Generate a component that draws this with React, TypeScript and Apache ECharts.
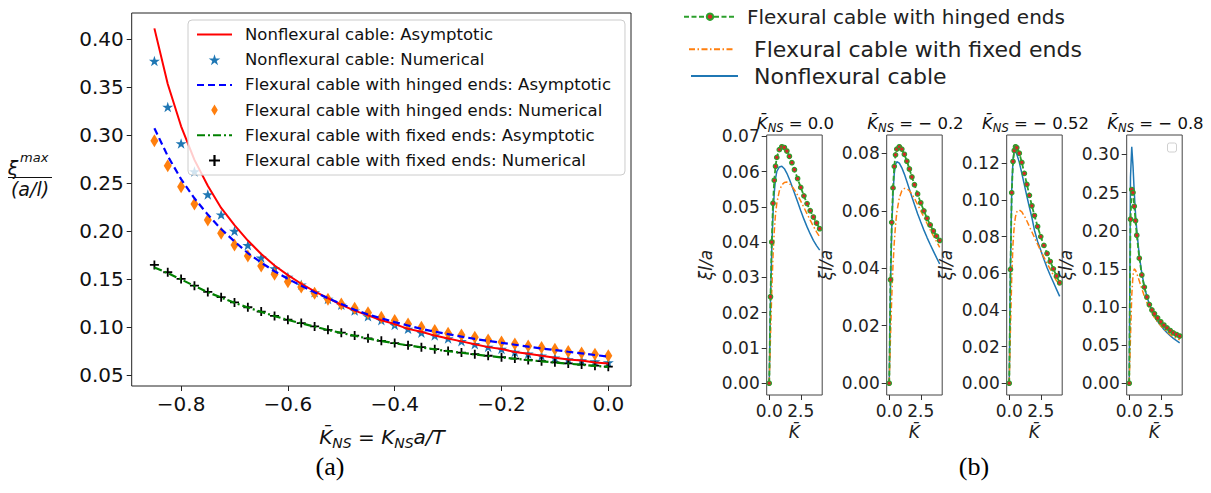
import React, { useEffect, useRef } from 'react';
import * as echarts from 'echarts';

// ---------- Panel (a) data ----------
const KNS = [-0.85, -0.825, -0.8, -0.775, -0.75, -0.725, -0.7, -0.675, -0.65, -0.625, -0.6, -0.575, -0.55, -0.525, -0.5, -0.475, -0.45, -0.425, -0.4, -0.375, -0.35, -0.325, -0.3, -0.275, -0.25, -0.225, -0.2, -0.175, -0.15, -0.125, -0.1, -0.075, -0.05, -0.025, 0];
const NONFLEX_ASYM = [0.411, 0.353, 0.309, 0.274, 0.247, 0.224, 0.206, 0.190, 0.176, 0.164, 0.154, 0.145, 0.137, 0.130, 0.123, 0.117, 0.112, 0.107, 0.103, 0.098, 0.095, 0.091, 0.088, 0.085, 0.082, 0.079, 0.077, 0.074, 0.072, 0.070, 0.068, 0.066, 0.065, 0.063, 0.062];
const NONFLEX_NUM = [0.377, 0.329, 0.291, 0.262, 0.238, 0.217, 0.200, 0.185, 0.172, 0.161, 0.152, 0.144, 0.136, 0.129, 0.123, 0.117, 0.111, 0.107, 0.102, 0.098, 0.094, 0.091, 0.088, 0.085, 0.082, 0.079, 0.077, 0.074, 0.072, 0.070, 0.068, 0.066, 0.065, 0.064, 0.063];
const HINGED_ASYM = [0.307, 0.278, 0.254, 0.234, 0.217, 0.202, 0.189, 0.177, 0.167, 0.158, 0.150, 0.143, 0.136, 0.130, 0.124, 0.118, 0.113, 0.109, 0.105, 0.1015, 0.098, 0.095, 0.0925, 0.090, 0.0875, 0.0855, 0.0835, 0.0815, 0.0795, 0.0775, 0.076, 0.0742, 0.0725, 0.0708, 0.069];
const HINGED_NUM = [0.294, 0.268, 0.246, 0.228, 0.2115, 0.1976, 0.1854, 0.174, 0.1635, 0.155, 0.147, 0.1415, 0.1351, 0.1289, 0.124, 0.1194, 0.1149, 0.1101, 0.1066, 0.1031, 0.0997, 0.0962, 0.0934, 0.0915, 0.0893, 0.0865, 0.0844, 0.0823, 0.0802, 0.0787, 0.0768, 0.0744, 0.073, 0.0715, 0.070];
const FIXED_ASYM = [0.162, 0.1562, 0.1495, 0.1427, 0.1362, 0.1306, 0.1252, 0.1202, 0.1157, 0.1113, 0.1073, 0.1038, 0.1003, 0.0969, 0.0938, 0.0908, 0.088, 0.0854, 0.083, 0.0808, 0.0787, 0.0767, 0.0748, 0.0731, 0.0714, 0.0698, 0.0683, 0.0669, 0.0655, 0.0642, 0.063, 0.0618, 0.0606, 0.0595, 0.0584];
const FIXED_NUM = [0.1646, 0.157, 0.150, 0.143, 0.1365, 0.131, 0.1255, 0.1205, 0.116, 0.1115, 0.1075, 0.104, 0.1005, 0.097, 0.094, 0.091, 0.0882, 0.0856, 0.0832, 0.081, 0.0789, 0.0769, 0.075, 0.0733, 0.0716, 0.070, 0.0685, 0.0671, 0.0657, 0.0644, 0.0632, 0.062, 0.0608, 0.0597, 0.0586];
const A_X_TICKS = [-0.8, -0.6, -0.4, -0.2, 0.0];
const A_Y_TICKS = [0.05, 0.10, 0.15, 0.20, 0.25, 0.30, 0.35, 0.40];
const A_NAMES = [
  'Nonflexural cable: Asymptotic',
  'Nonflexural cable: Numerical',
  'Flexural cable with hinged ends: Asymptotic',
  'Flexural cable with hinged ends: Numerical',
  'Flexural cable with fixed ends: Asymptotic',
  'Flexural cable with fixed ends: Numerical',
];

// ---------- Panel (b) data ----------
const KBAR = [0, 0.1, 0.2, 0.3, 0.4, 0.5, 0.6, 0.8, 1.0, 1.2, 1.4, 1.6, 1.8, 2.0, 2.25, 2.5, 2.75, 3.0, 3.25, 3.5, 3.75, 4.0];
const SUB_TITLES = ['0.0', '\u2212 0.2', '\u2212 0.52', '\u2212 0.8'];
const B_NAMES = ['Flexural cable with hinged ends', 'Flexural cable with fixed ends', 'Nonflexural cable'];

const HINGED_0 = [0, 0.0245, 0.040, 0.051, 0.0575, 0.0615, 0.0640, 0.0662, 0.0670, 0.0668, 0.0658, 0.0643, 0.0625, 0.0605, 0.0580, 0.0555, 0.0531, 0.0509, 0.0489, 0.0471, 0.0454, 0.0438];
const FIXED_0 = [0, 0.013, 0.026, 0.036, 0.043, 0.048, 0.051, 0.0545, 0.0562, 0.0569, 0.0570, 0.0566, 0.0558, 0.0548, 0.0533, 0.0516, 0.0498, 0.0480, 0.0462, 0.0445, 0.0429, 0.0415];
const NONFLEX_0 = [0, 0.023, 0.038, 0.048, 0.054, 0.058, 0.060, 0.0613, 0.0615, 0.0608, 0.0595, 0.0578, 0.0559, 0.0539, 0.0514, 0.0489, 0.0465, 0.0443, 0.0423, 0.0405, 0.0390, 0.0377];

const HINGED_1 = [0, 0.036, 0.056, 0.068, 0.0755, 0.0795, 0.0815, 0.0823, 0.0815, 0.0797, 0.0773, 0.0746, 0.0718, 0.0691, 0.0659, 0.0628, 0.0600, 0.0574, 0.0551, 0.0530, 0.0512, 0.0497];
const FIXED_1 = [0, 0.016, 0.030, 0.041, 0.049, 0.055, 0.0595, 0.0645, 0.0670, 0.0678, 0.0677, 0.0670, 0.0658, 0.0643, 0.0622, 0.0600, 0.0578, 0.0556, 0.0534, 0.0513, 0.0493, 0.0473];
const NONFLEX_1 = [0, 0.034, 0.054, 0.066, 0.073, 0.0762, 0.0771, 0.0766, 0.0750, 0.0728, 0.0702, 0.0675, 0.0648, 0.0622, 0.0590, 0.0561, 0.0533, 0.0507, 0.0483, 0.0460, 0.0437, 0.0415];

const HINGED_2 = [0, 0.062, 0.104, 0.121, 0.127, 0.129, 0.1285, 0.1255, 0.1205, 0.1145, 0.1085, 0.1025, 0.0968, 0.0915, 0.0855, 0.0800, 0.0752, 0.0708, 0.0664, 0.0624, 0.0585, 0.0548];
const FIXED_2 = [0, 0.030, 0.058, 0.076, 0.086, 0.091, 0.0935, 0.0945, 0.0935, 0.0912, 0.0885, 0.0855, 0.0825, 0.0795, 0.0758, 0.0722, 0.0688, 0.0655, 0.0622, 0.0590, 0.0558, 0.0527];
const NONFLEX_2 = [0, 0.065, 0.106, 0.122, 0.127, 0.1265, 0.125, 0.1205, 0.1145, 0.1083, 0.1020, 0.0960, 0.0903, 0.0835, 0.0773, 0.0726, 0.0676, 0.0630, 0.0589, 0.0551, 0.0512, 0.0474];

const HINGED_3 = [0, 0.215, 0.254, 0.250, 0.232, 0.213, 0.194, 0.164, 0.142, 0.126, 0.113, 0.103, 0.096, 0.091, 0.0855, 0.0805, 0.0762, 0.0725, 0.0690, 0.0660, 0.0638, 0.0618];
const FIXED_3 = [0, 0.060, 0.115, 0.142, 0.150, 0.148, 0.144, 0.134, 0.124, 0.114, 0.106, 0.098, 0.092, 0.086, 0.080, 0.0755, 0.0712, 0.0673, 0.0638, 0.0610, 0.0588, 0.0568];
const NONFLEX_3 = [0, 0.270, 0.310, 0.285, 0.250, 0.222, 0.200, 0.167, 0.144, 0.127, 0.114, 0.103, 0.095, 0.088, 0.081, 0.0755, 0.0705, 0.0662, 0.0622, 0.0588, 0.0558, 0.0530];

const SUB_HINGED = [HINGED_0, HINGED_1, HINGED_2, HINGED_3];
const SUB_FIXED = [FIXED_0, FIXED_1, FIXED_2, FIXED_3];
const SUB_NONFLEX = [NONFLEX_0, NONFLEX_1, NONFLEX_2, NONFLEX_3];
const SUB_X_TICKS = [0, 2.5];
const SUB_Y_TICKS = [
  [0, 0.01, 0.02, 0.03, 0.04, 0.05, 0.06, 0.07],
  [0, 0.02, 0.04, 0.06, 0.08],
  [0, 0.02, 0.04, 0.06, 0.08, 0.10, 0.12],
  [0, 0.05, 0.10, 0.15, 0.20, 0.25, 0.30],
];

// ---------- layout / style ----------
const FONT = 'DejaVu Sans';
const STAR = 'path://M50,0L61.2,34.5L97.6,34.5L68.2,55.9L79.4,90.5L50,69.1L20.6,90.5L31.8,55.9L2.4,34.5L38.8,34.5Z';
const THIN_DIAMOND = 'path://M30,0L60,50L30,100L0,50Z';
const PLUS = 'path://M40,0H60V40H100V60H60V100H40V60H0V40H40Z';
const A_GRID = { left: 131.7, top: 13, width: 499.3, height: 373 };
const SUB_LEFTS = [766.7, 886.7, 1006.7, 1126.7];
const SUB_TOP = 135;
const SUB_W = 55.5;
const SUB_H = 260;

const zip = (xs: number[], ys: number[]) => xs.map((x, i) => [x, ys[i]]);
const fmt1 = (v: number) => (v < 0 ? '\u2212' : '') + Math.abs(v).toFixed(1);
const fmt2 = (v: number) => v.toFixed(2);

function buildOption() {
  const grids: any[] = [{ ...A_GRID, show: true, borderColor: '#222', borderWidth: 1, containLabel: false }];
  const xAxes: any[] = [{
    type: 'value', gridIndex: 0, min: -0.8925, max: 0.0425, position: 'bottom',
    axisLine: { show: false, onZero: false }, splitLine: { show: false },
    axisTick: { show: true, length: 5, lineStyle: { color: '#222' }, customValues: A_X_TICKS },
    axisLabel: { customValues: A_X_TICKS, formatter: fmt1, fontSize: 20, color: '#111', fontFamily: FONT, margin: 8 },
  }];
  const yAxes: any[] = [{
    type: 'value', gridIndex: 0, min: 0.0385, max: 0.427, position: 'left',
    axisLine: { show: false, onZero: false }, splitLine: { show: false },
    axisTick: { show: true, length: 5, lineStyle: { color: '#222' }, customValues: A_Y_TICKS },
    axisLabel: { customValues: A_Y_TICKS, formatter: fmt2, fontSize: 20, color: '#111', fontFamily: FONT, margin: 8 },
  }];

  const series: any[] = [
    { name: A_NAMES[0], type: 'line', xAxisIndex: 0, yAxisIndex: 0, data: zip(KNS, NONFLEX_ASYM), symbol: 'none', lineStyle: { color: '#ff0000', width: 2 }, itemStyle: { color: '#ff0000' } },
    { name: A_NAMES[1], type: 'scatter', xAxisIndex: 0, yAxisIndex: 0, data: zip(KNS, NONFLEX_NUM), symbol: STAR, symbolSize: 11, symbolKeepAspect: true, itemStyle: { color: '#1f77b4', opacity: 1 } },
    { name: A_NAMES[2], type: 'line', xAxisIndex: 0, yAxisIndex: 0, data: zip(KNS, HINGED_ASYM), symbol: 'none', lineStyle: { color: '#0000ff', width: 2.2, type: [7, 4] }, itemStyle: { color: '#0000ff' } },
    { name: A_NAMES[3], type: 'scatter', xAxisIndex: 0, yAxisIndex: 0, data: zip(KNS, HINGED_NUM), symbol: THIN_DIAMOND, symbolSize: [8, 13], itemStyle: { color: '#ff7f0e', opacity: 1 } },
    { name: A_NAMES[4], type: 'line', xAxisIndex: 0, yAxisIndex: 0, data: zip(KNS, FIXED_ASYM), symbol: 'none', lineStyle: { color: '#008000', width: 2.2, type: [8, 3, 2, 3] }, itemStyle: { color: '#008000' } },
    { name: A_NAMES[5], type: 'scatter', xAxisIndex: 0, yAxisIndex: 0, data: zip(KNS, FIXED_NUM), symbol: PLUS, symbolSize: 9, itemStyle: { color: '#000000', opacity: 1 } },
  ];

  const graphics: any[] = [];

  SUB_LEFTS.forEach((left, i) => {
    const gi = i + 1;
    grids.push({ left, top: SUB_TOP, width: SUB_W, height: SUB_H, show: true, borderColor: '#444', borderWidth: 1, containLabel: false });
    xAxes.push({
      type: 'value', gridIndex: gi, min: -0.2, max: 4.2, position: 'bottom',
      axisLine: { show: false, onZero: false }, splitLine: { show: false },
      axisTick: { show: true, length: 5, lineStyle: { color: '#333' }, customValues: SUB_X_TICKS },
      axisLabel: { customValues: SUB_X_TICKS, formatter: fmt1, fontSize: 17, color: '#222', fontFamily: FONT, margin: 7 },
    });
    yAxes.push({
      type: 'value', gridIndex: gi, position: 'left',
      min: (v: any) => v.min - 0.05 * (v.max - v.min),
      max: (v: any) => v.max + 0.05 * (v.max - v.min),
      axisLine: { show: false, onZero: false }, splitLine: { show: false },
      axisTick: { show: true, length: 5, lineStyle: { color: '#333' }, customValues: SUB_Y_TICKS[i] },
      axisLabel: { customValues: SUB_Y_TICKS[i], formatter: fmt2, fontSize: 17, color: '#222', fontFamily: FONT, margin: 7 },
    });
    series.push(
      { name: B_NAMES[2], type: 'line', xAxisIndex: gi, yAxisIndex: gi, data: zip(KBAR, SUB_NONFLEX[i]), symbol: 'none', lineStyle: { color: '#1f77b4', width: 1.5 }, itemStyle: { color: '#1f77b4' } },
      { name: B_NAMES[1], type: 'line', xAxisIndex: gi, yAxisIndex: gi, data: zip(KBAR, SUB_FIXED[i]), symbol: 'none', lineStyle: { color: '#ff7f0e', width: 1.5, type: [6, 2.5, 1.5, 2.5] }, itemStyle: { color: '#ff7f0e' } },
      { name: B_NAMES[0], type: 'line', xAxisIndex: gi, yAxisIndex: gi, data: zip(KBAR, SUB_HINGED[i]), symbol: 'circle', symbolSize: 4.5, showSymbol: true, showAllSymbol: true, lineStyle: { color: '#2ca02c', width: 1.8, type: [5, 2.5] }, itemStyle: { color: '#d62728', borderColor: '#2ca02c', borderWidth: 1.2 } },
    );
    const cx = left + SUB_W / 2;
    graphics.push({
      type: 'text', x: cx + 1, y: 123,
      style: {
        text: '{i|K\u0304}{s|NS}{n| = ' + SUB_TITLES[i] + '}',
        align: 'center', verticalAlign: 'middle',
        rich: {
          i: { fontFamily: FONT, fontStyle: 'italic', fontSize: 16.5, lineHeight: 22, fill: '#111' },
          s: { fontFamily: FONT, fontStyle: 'italic', fontSize: 11.5, lineHeight: 12, padding: [9, 0, 0, 0], fill: '#111' },
          n: { fontFamily: FONT, fontSize: 16.5, lineHeight: 22, fill: '#111' },
        },
      },
    });
    graphics.push({
      type: 'text', x: cx, y: 432,
      style: { text: 'K\u0304', fontFamily: FONT, fontStyle: 'italic', fontSize: 17, fill: '#222', align: 'center', verticalAlign: 'middle' },
    });
    graphics.push({
      type: 'text', x: left - 61, y: 265, rotation: Math.PI / 2,
      style: { text: '\u03BEl/a', fontFamily: FONT, fontStyle: 'italic', fontSize: 17, fill: '#222', align: 'center', verticalAlign: 'middle' },
    });
  });

  // empty legend box in last subplot
  graphics.push({ type: 'rect', shape: { x: 1167.5, y: 143, width: 9, height: 9, r: 2 }, style: { fill: '#fff', stroke: '#d0d0d0', lineWidth: 1 } });

  // panel (a) axis labels
  graphics.push({
    type: 'text', x: 382, y: 437,
    style: {
      text: '{i|K\u0304}{s|NS}{n| = }{i|K}{s|NS}{i|a/T}',
      align: 'center', verticalAlign: 'middle',
      rich: {
        i: { fontFamily: FONT, fontStyle: 'italic', fontSize: 20, lineHeight: 26, fill: '#111' },
        s: { fontFamily: FONT, fontStyle: 'italic', fontSize: 14, lineHeight: 14, padding: [11, 0, 0, 0], fill: '#111' },
        n: { fontFamily: FONT, fontSize: 20, lineHeight: 26, fill: '#111' },
      },
    },
  });
  graphics.push({ type: 'text', x: 13, y: 168, style: { text: '\u03BE', fontFamily: FONT, fontStyle: 'italic', fontSize: 19, fill: '#111', align: 'center', verticalAlign: 'middle' } });
  graphics.push({ type: 'text', x: 20, y: 157, style: { text: 'max', fontFamily: FONT, fontStyle: 'italic', fontSize: 13, fill: '#111', align: 'left', verticalAlign: 'middle' } });
  graphics.push({ type: 'line', shape: { x1: 8, y1: 177.5, x2: 52, y2: 177.5 }, style: { stroke: '#111', lineWidth: 1 } });
  graphics.push({ type: 'text', x: 30, y: 189, style: { text: '(a/l)', fontFamily: FONT, fontStyle: 'italic', fontSize: 19, fill: '#111', align: 'center', verticalAlign: 'middle' } });

  graphics.push({ type: 'text', x: 330, y: 466, style: { text: '(a)', fontFamily: 'Liberation Serif', fontSize: 26, fill: '#000', align: 'center', verticalAlign: 'middle' } });
  graphics.push({ type: 'text', x: 974, y: 466, style: { text: '(b)', fontFamily: 'Liberation Serif', fontSize: 26, fill: '#000', align: 'center', verticalAlign: 'middle' } });

  const hideSym = { opacity: 0 };
  const legends: any[] = [
    {
      orient: 'vertical', left: 188, top: 20, padding: [6, 14, 6, 8], itemGap: 8.2, itemWidth: 35, itemHeight: 11,
      backgroundColor: 'rgba(255,255,255,0.8)', borderColor: '#cccccc', borderWidth: 1, borderRadius: 4,
      textStyle: { fontFamily: FONT, fontSize: 16.5, color: '#111', padding: [0, 0, 0, 8] },
      selectedMode: false, z: 20,
      data: [
        { name: A_NAMES[0], itemStyle: hideSym },
        { name: A_NAMES[1] },
        { name: A_NAMES[2], itemStyle: hideSym },
        { name: A_NAMES[3] },
        { name: A_NAMES[4], itemStyle: hideSym },
        { name: A_NAMES[5] },
      ],
    },
    {
      left: 683, top: 6.7, padding: 0, itemWidth: 52, itemHeight: 8, selectedMode: false,
      textStyle: { fontFamily: FONT, fontSize: 20, color: '#222', padding: [0, 0, 0, 6] },
      data: [{ name: B_NAMES[0] }],
    },
    {
      left: 688, top: 38.3, padding: 0, itemWidth: 46, itemHeight: 8, selectedMode: false,
      textStyle: { fontFamily: FONT, fontSize: 22, color: '#222', padding: [0, 0, 0, 14] },
      data: [{ name: B_NAMES[1], itemStyle: hideSym }],
    },
    {
      left: 690, top: 65, padding: 0, itemWidth: 47, itemHeight: 8, selectedMode: false,
      textStyle: { fontFamily: FONT, fontSize: 22, color: '#222', padding: [0, 0, 0, 11] },
      data: [{ name: B_NAMES[2], itemStyle: hideSym }],
    },
  ];

  return {
    animation: false,
    backgroundColor: '#ffffff',
    textStyle: { fontFamily: FONT },
    grid: grids,
    xAxis: xAxes,
    yAxis: yAxes,
    legend: legends,
    series,
    graphic: graphics,
  };
}

export default function App() {
  const ref = useRef<HTMLDivElement>(null);
  useEffect(() => {
    if (!ref.current) return;
    const chart = echarts.init(ref.current, null, { renderer: 'svg' });
    chart.setOption(buildOption() as any);
    return () => chart.dispose();
  }, []);
  return (
    <div
      ref={ref}
      style={{ position: 'absolute', left: 0, top: 0, width: 1211, height: 493, background: '#fff' }}
    />
  );
}
